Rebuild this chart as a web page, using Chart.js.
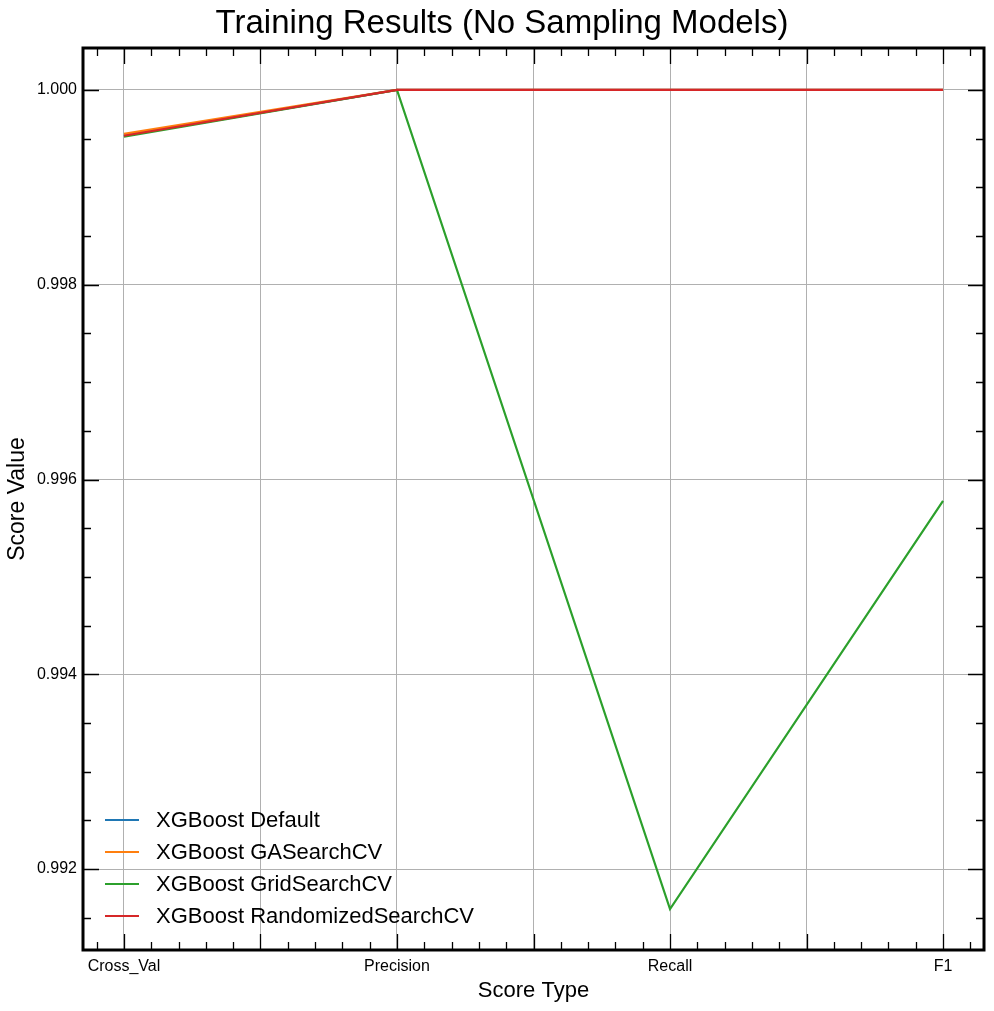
<!DOCTYPE html>
<html>
<head>
<meta charset="UTF-8" />
<script src="https://cdn.jsdelivr.net/npm/chart.js"></script>
<style>
  body { margin: 0; padding: 0; background: #fff; }
  #chart { display: block; }
</style>
</head>
<body>
<canvas id="chart" width="994" height="1011"></canvas>
<script>
  // score values
  const scoreTypes = ['Cross_Val', 'Precision', 'Recall', 'F1'];
  const modelNames = ['XGBoost Default', 'XGBoost GASearchCV', 'XGBoost GridSearchCV', 'XGBoost RandomizedSearchCV'];
  const defaultScores = [0.99953, 1.0, 1.0, 1.0];
  const gaScores = [0.99955, 1.0, 1.0, 1.0];
  const gridScores = [0.99952, 1.0, 0.99159, 0.99578];
  const randomScores = [0.99953, 1.0, 1.0, 1.0];
  const yTickValues = [0.992, 0.994, 0.996, 0.998, 1.0];
  const xTickValues = [0, 0.5, 1, 1.5, 2, 2.5, 3];

  const allScores = [defaultScores, gaScores, gridScores, randomScores];
  const colors = ['#1f77b4', '#ff7f0e', '#2ca02c', '#d62728'];
  const FONT = "'Liberation Sans', Arial, sans-serif";

  Chart.defaults.font.family = FONT;
  Chart.defaults.color = '#000';

  // title drawn by hand so it can sit a bit right of the canvas centre like the original
  const topTitle = {
    id: 'topTitle',
    afterDraw(chart) {
      const ctx = chart.ctx;
      ctx.save();
      ctx.font = '33px ' + FONT;
      ctx.fillStyle = '#000';
      ctx.textAlign = 'center';
      ctx.textBaseline = 'middle';
      ctx.fillText('Training Results (No Sampling Models)', 502, 24);
      ctx.restore();
    }
  };

  // inward ticks on all four sides + thick frame (mplhep look)
  const frameTicks = {
    id: 'frameTicks',
    afterDraw(chart) {
      const { ctx, chartArea: a, scales: { x, y } } = chart;
      ctx.save();
      ctx.strokeStyle = '#000';
      ctx.lineWidth = 1.3;
      ctx.beginPath();
      for (let k = -1; k <= 31; k++) {
        const v = k / 10;
        if (v < x.min || v > x.max) continue;
        const px = Math.round(x.getPixelForValue(v)) + 0.5;
        const len = k % 5 === 0 ? 16 : 8;
        ctx.moveTo(px, a.bottom); ctx.lineTo(px, a.bottom - len);
        ctx.moveTo(px, a.top); ctx.lineTo(px, a.top + len);
      }
      for (let k = 1983; k <= 2001; k++) {
        const v = k * 0.0005;
        if (v < y.min || v > y.max) continue;
        const py = Math.round(y.getPixelForValue(v)) + 0.5;
        const len = k % 4 === 0 ? 16 : 8;
        ctx.moveTo(a.left, py); ctx.lineTo(a.left + len, py);
        ctx.moveTo(a.right, py); ctx.lineTo(a.right - len, py);
      }
      ctx.stroke();
      ctx.lineWidth = 3;
      ctx.strokeRect(a.left, a.top, a.right - a.left, a.bottom - a.top);
      ctx.restore();
    }
  };

  // legend in the lower left corner of the plot, no frame
  const innerLegend = {
    id: 'innerLegend',
    afterDatasetsDraw(chart) {
      const { ctx, chartArea: a } = chart;
      ctx.save();
      ctx.font = '22px ' + FONT;
      ctx.textBaseline = 'middle';
      ctx.fillStyle = '#000';
      chart.data.datasets.forEach((ds, i) => {
        const yy = a.bottom - 130 + i * 32;
        ctx.strokeStyle = ds.borderColor;
        ctx.lineWidth = 2.2;
        ctx.beginPath();
        ctx.moveTo(a.left + 22, yy);
        ctx.lineTo(a.left + 56, yy);
        ctx.stroke();
        ctx.fillText(ds.label, a.left + 73, yy + 1);
      });
      ctx.restore();
    }
  };

  new Chart(document.getElementById('chart'), {
    type: 'line',
    data: {
      datasets: modelNames.map((name, i) => ({
        label: name,
        data: allScores[i].map((v, j) => ({ x: j, y: v })),
        borderColor: colors[i],
        backgroundColor: colors[i],
        borderWidth: 2.2,
        pointRadius: 0,
        tension: 0,
        order: 4 - i,
      })),
    },
    options: {
      responsive: false,
      animation: false,
      devicePixelRatio: 1,
      layout: { padding: { left: 0, right: 10, top: 48, bottom: 0 } },
      plugins: {
        legend: { display: false },
        tooltip: { enabled: false },
      },
      scales: {
        x: {
          type: 'linear',
          min: -0.15,
          max: 3.15,
          afterBuildTicks: (s) => { s.ticks = xTickValues.map(v => ({ value: v })); },
          afterFit: (s) => { s.height = 61; },
          ticks: {
            autoSkip: false,
            maxRotation: 0,
            padding: 7,
            font: { size: 16 },
            callback: (v) => Number.isInteger(v) ? scoreTypes[v] : '',
          },
          grid: { color: '#b0b0b0', lineWidth: 1, drawTicks: false },
          border: { display: false },
          title: { display: true, text: 'Score Type', font: { size: 22 }, padding: { top: 0, bottom: 7 } },
        },
        y: {
          min: 0.991169,
          max: 1.000431,
          afterBuildTicks: (s) => { s.ticks = yTickValues.map(v => ({ value: v })); },
          afterFit: (s) => { s.width = 83; },
          ticks: {
            padding: 6,
            font: { size: 16 },
            callback: (v) => v.toFixed(3),
          },
          grid: { color: '#b0b0b0', lineWidth: 1, drawTicks: false },
          border: { display: false },
          title: { display: true, text: 'Score Value', font: { size: 23 }, padding: { top: 4, bottom: 0 } },
        },
      },
    },
    plugins: [innerLegend, frameTicks, topTitle],
  });
</script>
</body>
</html>
